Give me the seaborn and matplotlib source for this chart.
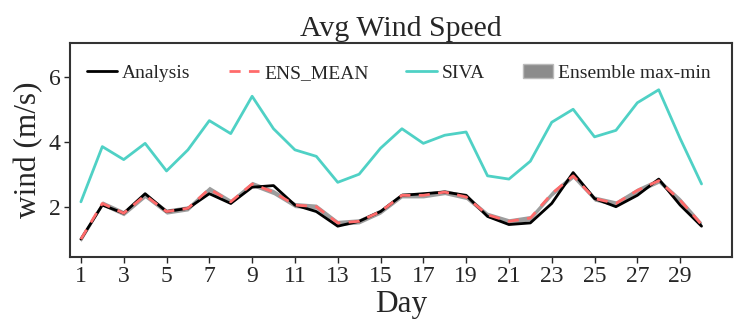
import numpy as np
import pandas as pd
import matplotlib
matplotlib.use("Agg")
import matplotlib.pyplot as plt
import seaborn as sns
from matplotlib.patches import Patch

days = list(range(1, 31))
analysis = [1.0, 2.05, 1.8, 2.4, 1.85, 1.95, 2.4, 2.1, 2.6, 2.65,
            2.05, 1.85, 1.4, 1.55, 1.85, 2.35, 2.4, 2.45, 2.35, 1.7,
            1.45, 1.5, 2.1, 3.05, 2.25, 2.0, 2.35, 2.85, 2.05, 1.4]
ens_mean = [1.0, 2.1, 1.8, 2.35, 1.85, 1.95, 2.55, 2.15, 2.7, 2.45,
            2.05, 2.0, 1.5, 1.55, 1.85, 2.35, 2.35, 2.45, 2.3, 1.75,
            1.55, 1.65, 2.4, 2.95, 2.25, 2.1, 2.5, 2.8, 2.2, 1.45]
ens_max = [1.08, 2.18, 1.88, 2.43, 1.93, 2.03, 2.63, 2.23, 2.78, 2.53,
           2.13, 2.08, 1.58, 1.63, 1.93, 2.43, 2.43, 2.53, 2.38, 1.83,
           1.63, 1.73, 2.48, 3.03, 2.33, 2.18, 2.58, 2.88, 2.28, 1.53]
ens_min = [0.92, 2.02, 1.72, 2.27, 1.77, 1.87, 2.47, 2.07, 2.62, 2.37,
           1.97, 1.92, 1.42, 1.47, 1.77, 2.27, 2.27, 2.37, 2.22, 1.67,
           1.47, 1.57, 2.32, 2.87, 2.17, 2.02, 2.42, 2.72, 2.12, 1.37]
siva = [2.15, 3.85, 3.45, 3.95, 3.1, 3.75, 4.65, 4.25, 5.4, 4.4,
        3.75, 3.55, 2.75, 3.0, 3.8, 4.4, 3.95, 4.2, 4.3, 2.95,
        2.85, 3.4, 4.6, 5.0, 4.15, 4.35, 5.2, 5.6, 4.1, 2.7]

df = pd.DataFrame({"Day": days, "Analysis": analysis, "ENS_MEAN": ens_mean,
                   "SIVA": siva, "max": ens_max, "min": ens_min})

sns.set_style("ticks")
plt.rcParams['font.family'] = ['Liberation Serif', 'DejaVu Serif']

W, H = 734, 323
fig, ax = plt.subplots(figsize=(W / 100, H / 100), dpi=100)
fig.subplots_adjust(left=70 / W, right=731.5 / W, top=1 - 43 / H, bottom=1 - 256.7 / H)

ax.fill_between(df["Day"], df["min"], df["max"], color="#8c8c8c", alpha=0.85,
                linewidth=0, zorder=1)
sns.lineplot(data=df, x="Day", y="Analysis", ax=ax, color="black", linewidth=2, zorder=3)
sns.lineplot(data=df, x="Day", y="ENS_MEAN", ax=ax, color="#ff6b6b", linewidth=2,
             linestyle=(0, (4, 3)), zorder=4)
sns.lineplot(data=df, x="Day", y="SIVA", ax=ax, color="#4fd1c5", linewidth=2, zorder=2)

ax.set_xlim(0.49, 31.4)
ax.set_ylim(0.46, 7.04)
ax.set_xticks(list(range(1, 31, 2)))
ax.set_yticks([2, 4, 6])
ax.tick_params(labelsize=17, width=1, length=4, pad=3)
ax.set_xlabel("Day", fontsize=22.5, labelpad=2)
ax.set_ylabel("wind (m/s)", fontsize=22.5, labelpad=4)
ax.set_title("Avg Wind Speed", fontsize=21.5, pad=5)
for s in ax.spines.values():
    s.set_linewidth(1.5)
    s.set_color("#333333")

handles = [
    plt.Line2D([], [], color="black", linewidth=2),
    plt.Line2D([], [], color="#ff6b6b", linewidth=2, linestyle=(0, (4, 3))),
    plt.Line2D([], [], color="#4fd1c5", linewidth=2),
    Patch(facecolor="#8c8c8c", edgecolor="#bbbbbb"),
]
ax.legend(handles, ["Analysis", "ENS_MEAN", "SIVA", "Ensemble max-min"],
          ncol=4, loc="center left", frameon=False, fontsize=14.0,
          handlelength=1.57, columnspacing=1.95, handletextpad=0.25,
          borderpad=0, borderaxespad=0,
          bbox_to_anchor=(86.7 / W, 1 - 73 / H), bbox_transform=fig.transFigure)

fig.savefig("out.png", dpi=100)
